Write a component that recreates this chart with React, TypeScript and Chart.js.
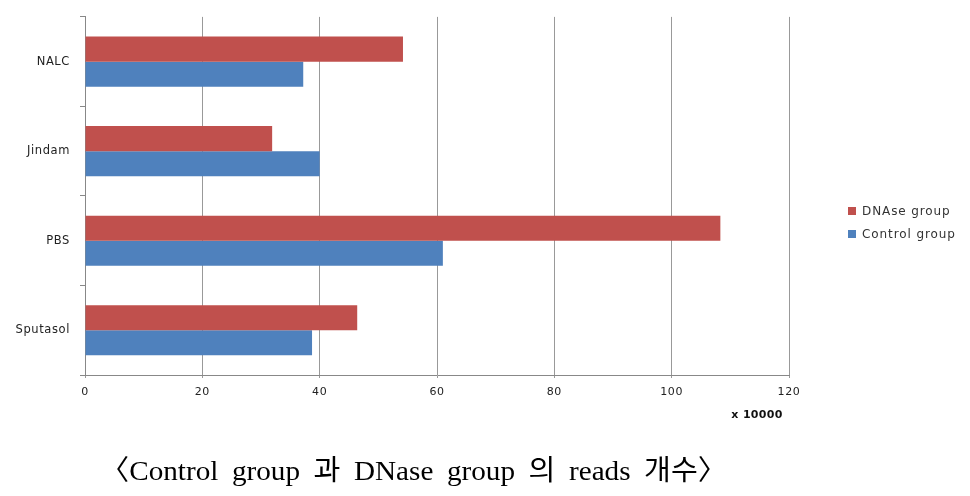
import React, { useEffect, useRef } from "react";
import { Chart, registerables } from "chart.js";

Chart.register(...registerables);

const categories = ["NALC", "Jindam", "PBS", "Sputasol"];
const dnaseValues = [54.2, 31.9, 108.3, 46.4];
const controlValues = [37.2, 40.0, 61.0, 38.7];
const xTicks = [0, 20, 40, 60, 80, 100, 120];
const seriesNames = ["DNAse group", "Control group"];
const seriesColors = ["#C0504D", "#4F81BD"];
const unitLabel = "x 10000";
const caption = "〈Control group 과 DNase group 의 reads 개수〉";

const W = 970;
const H = 496;

const spacingPlugin = {
  id: "spacing",
  beforeDraw(chart: any) {
    chart.ctx.letterSpacing = "0.6px";
  },
};

const extrasPlugin = {
  id: "extras",
  afterDraw(chart: any) {
    const ctx = chart.ctx;
    ctx.save();
    // legend
    ctx.letterSpacing = "0.9px";
    ctx.font = '12px "DejaVu Sans", sans-serif';
    ctx.textBaseline = "middle";
    ctx.textAlign = "left";
    const ly = [211, 234];
    seriesNames.forEach((name, i) => {
      ctx.fillStyle = seriesColors[i];
      ctx.fillRect(848, ly[i] - 4, 8, 8);
      ctx.fillStyle = "#333";
      ctx.fillText(name, 862, ly[i] + 0.5);
    });
    // unit label
    ctx.letterSpacing = "0.3px";
    ctx.font = 'bold 11px "DejaVu Sans", sans-serif';
    ctx.textAlign = "center";
    ctx.fillStyle = "#111";
    ctx.fillText(unitLabel, 757, 415);
    // caption
    ctx.letterSpacing = "0px";
    ctx.wordSpacing = "6px";
    ctx.font = '28px "Liberation Serif", "Noto Sans CJK KR", serif';
    ctx.textAlign = "left";
    ctx.textBaseline = "alphabetic";
    const w = ctx.measureText(caption).width;
    const target = 627;
    ctx.translate(100, 480);
    ctx.scale(target / w, 1);
    ctx.fillStyle = "#000";
    ctx.fillText(caption, 0, 0);
    ctx.restore();
  },
};

export default function App() {
  const ref = useRef<HTMLCanvasElement>(null);
  useEffect(() => {
    if (!ref.current) return;
    const chart = new Chart(ref.current, {
      type: "bar",
      data: {
        labels: categories,
        datasets: [
          {
            label: seriesNames[0],
            data: dnaseValues,
            backgroundColor: seriesColors[0],
            borderWidth: 0,
            categoryPercentage: 0.56,
            barPercentage: 1,
          },
          {
            label: seriesNames[1],
            data: controlValues,
            backgroundColor: seriesColors[1],
            borderWidth: 0,
            categoryPercentage: 0.56,
            barPercentage: 1,
          },
        ],
      },
      options: {
        indexAxis: "y",
        animation: false,
        responsive: false,
        maintainAspectRatio: false,
        devicePixelRatio: 1,
        layout: { padding: { left: 0, top: 16, right: W - 789, bottom: 0 } },
        plugins: {
          legend: { display: false },
          tooltip: { enabled: false },
          title: { display: false },
        },
        scales: {
          x: {
            type: "linear",
            min: 0,
            max: 120,
            afterBuildTicks: (scale: any) => {
              scale.ticks = xTicks.map((v) => ({ value: v }));
            },
            afterFit: (scale: any) => {
              scale.height = H - 375;
            },
            ticks: {
              font: { family: '"DejaVu Sans", sans-serif', size: 11 },
              color: "#222",
              padding: 8,
              maxRotation: 0,
            },
            grid: {
              color: "#999",
              lineWidth: 1,
              drawTicks: true,
              tickLength: 3,
            },
            border: { color: "#888", width: 1 },
          },
          y: {
            type: "category",
            afterFit: (scale: any) => {
              scale.width = 85;
            },
            ticks: {
              font: { family: '"DejaVu Sans", sans-serif', size: 11.5 },
              color: "#222",
              padding: 10,
            },
            grid: {
              offset: true,
              drawOnChartArea: false,
              drawTicks: true,
              tickLength: 5,
              color: "#888",
            },
            border: { color: "#888", width: 1 },
          },
        },
      },
      plugins: [spacingPlugin, extrasPlugin],
    } as any);
    return () => chart.destroy();
  }, []);
  return (
    <div style={{ position: "absolute", left: 0, top: 0, width: W, height: H, background: "#fff" }}>
      <canvas ref={ref} width={W} height={H} style={{ width: W, height: H, display: "block" }} />
    </div>
  );
}
